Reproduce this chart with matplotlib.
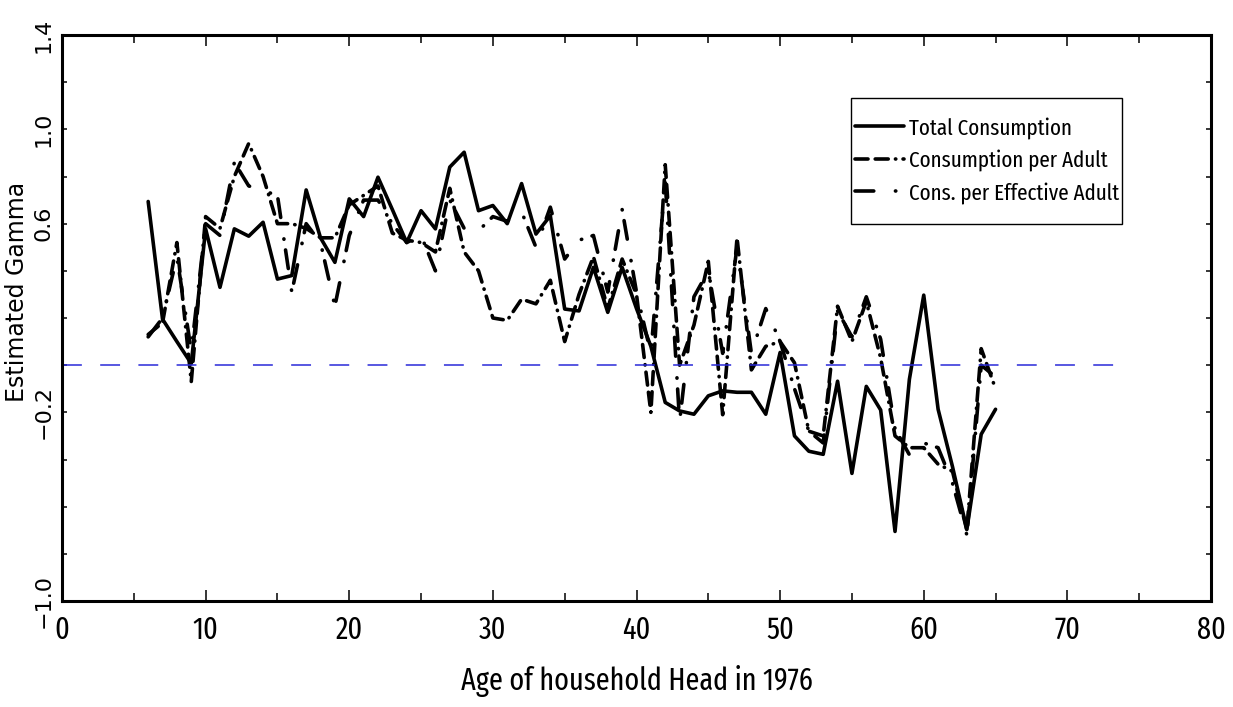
import numpy as np
import matplotlib
matplotlib.use("Agg")
import matplotlib.pyplot as plt
from matplotlib.patches import Rectangle
from matplotlib.ticker import FixedLocator, FixedFormatter, MultipleLocator

# Age of household head, one estimate per year of age
ages = list(range(6, 66))

total_consumption = [
    0.694, 0.195, 0.10, 0.007, 0.578, 0.33, 0.578, 0.547, 0.606, 0.365,
    0.38, 0.743, 0.54, 0.436, 0.705, 0.63, 0.797, 0.66, 0.52, 0.655,
    0.578, 0.84, 0.903, 0.655, 0.677, 0.60, 0.77, 0.556, 0.634, 0.238,
    0.23, 0.415, 0.224, 0.415, 0.24, 0.08, -0.158, -0.194, -0.208, -0.13,
    -0.109, -0.115, -0.115, -0.208, 0.054, -0.30, -0.365, -0.378, -0.068, -0.459,
    -0.09, -0.19, -0.705, -0.06, 0.297, -0.187, -0.43, -0.697, -0.293, -0.187,
]

cons_per_adult = [
    0.13, 0.18, 0.52, -0.07, 0.63, 0.58, 0.80, 0.94, 0.80, 0.60,
    0.60, 0.58, 0.54, 0.54, 0.68, 0.72, 0.76, 0.56, 0.53, 0.52,
    0.48, 0.75, 0.48, 0.40, 0.20, 0.19, 0.28, 0.26, 0.36, 0.10,
    0.30, 0.46, 0.24, 0.45, 0.30, -0.20, 0.85, 0.00, 0.17, 0.44,
    -0.21, 0.54, -0.02, 0.08, 0.10, 0.01, -0.28, -0.30, 0.25, 0.10,
    0.27, 0.03, -0.30, -0.35, -0.35, -0.42, -0.45, -0.70, 0.07, -0.10,
]

cons_per_eff_adult = [
    0.12, 0.20, 0.46, 0.06, 0.60, 0.55, 0.86, 0.76, 0.74, 0.72,
    0.31, 0.60, 0.52, 0.25, 0.55, 0.70, 0.70, 0.60, 0.52, 0.55,
    0.40, 0.70, 0.58, 0.57, 0.63, 0.61, 0.65, 0.50, 0.67, 0.45,
    0.53, 0.55, 0.31, 0.66, 0.31, 0.05, 0.78, -0.24, 0.29, 0.40,
    0.05, 0.50, 0.05, 0.24, 0.10, -0.10, -0.28, -0.33, 0.23, 0.12,
    0.29, 0.11, -0.27, -0.38, -0.33, -0.35, -0.50, -0.72, 0.00, -0.05,
]

series_names = ["Total Consumption", "Consumption per Adult", "Cons. per Effective Adult"]

x_ticks = [0, 10, 20, 30, 40, 50, 60, 70, 80]
x_ticklabels = ["0", "10", "20", "30", "40", "50", "60", "70", "80"]
y_ticks = [1.4, 1.2, 1.0, 0.8, 0.6, 0.4, 0.2, 0.0, -0.2, -0.4, -0.6, -0.8, -1.0]
y_ticklabels = ["1.4", "", "1.0", "", "0.6", "", "", "", "\u22120.2", "", "", "", "\u22121.0"]

narrow = ["Fira Sans Extra Condensed", "DejaVu Sans"]
plain = ["DejaVu Sans"]

W, H = 1233, 707
fig = plt.figure(figsize=(W / 100, H / 100), dpi=100)
ax = fig.add_axes([62 / W, 1 - 601 / H, (1211 - 62) / W, (601 - 35) / H])

lw = 2.6
ax.plot(ages, total_consumption, color="black", lw=lw, solid_joinstyle="round",
        solid_capstyle="round", label=series_names[0])
ax.plot(ages, cons_per_adult, color="black", lw=lw, dash_capstyle="round",
        linestyle=(0, (3.6, 2.0, 3.6, 2.0, 0.1, 2.0)), label=series_names[1])
ax.plot(ages, cons_per_eff_adult, color="black", lw=lw, dash_capstyle="round",
        linestyle=(0, (5.2, 6.0, 0.1, 3.0)), label=series_names[2])

# zero reference line
ax.plot([0, 74], [0, 0], color="#2a2ad8", lw=1.1, linestyle=(0, (13, 12)))

ax.set_xlim(0, 80)
ax.set_ylim(-1.0, 1.4)

ax.xaxis.set_major_locator(FixedLocator(x_ticks))
ax.xaxis.set_major_formatter(FixedFormatter(x_ticklabels))
ax.xaxis.set_minor_locator(MultipleLocator(5))
ax.yaxis.set_major_locator(FixedLocator(y_ticks))
ax.yaxis.set_major_formatter(FixedFormatter(y_ticklabels))

ax.tick_params(axis="x", which="major", direction="in", length=8, width=1.1,
               top=True, pad=10, labelsize=22)
ax.tick_params(axis="x", which="minor", direction="in", length=5.5, width=1.1, top=True)
ax.tick_params(axis="y", which="major", direction="in", length=3.6, width=1.1,
               right=True, pad=6, labelsize=16)
for lab in ax.get_xticklabels():
    lab.set_family(narrow)
for lab in ax.get_yticklabels():
    lab.set_rotation(90)
    lab.set_va("center")
    lab.set_family(plain)

for sp in ax.spines.values():
    sp.set_linewidth(2.2)

ax.set_xlabel("Age of household Head in 1976", family=narrow, fontsize=22, labelpad=14)
fig.text(17 / W, 1 - 292 / H, "Estimated Gamma", rotation=90, ha="center",
         va="center", fontsize=17, family=plain)

# legend entries without frame, box drawn separately
leg = ax.legend(loc="upper left", bbox_to_anchor=(855 / W, 1 - 117 / H),
                bbox_transform=fig.transFigure, frameon=False,
                prop={"family": narrow, "size": 16.5},
                handlelength=2.15, handletextpad=0.2, borderpad=0,
                labelspacing=0.45, borderaxespad=0)
fig.add_artist(Rectangle((851 / W, 1 - 224 / H), (1122 - 851) / W, (224 - 98) / H,
                         transform=fig.transFigure, fill=False, edgecolor="black",
                         lw=1.0, zorder=5))

fig.savefig("out.png", dpi=100)
